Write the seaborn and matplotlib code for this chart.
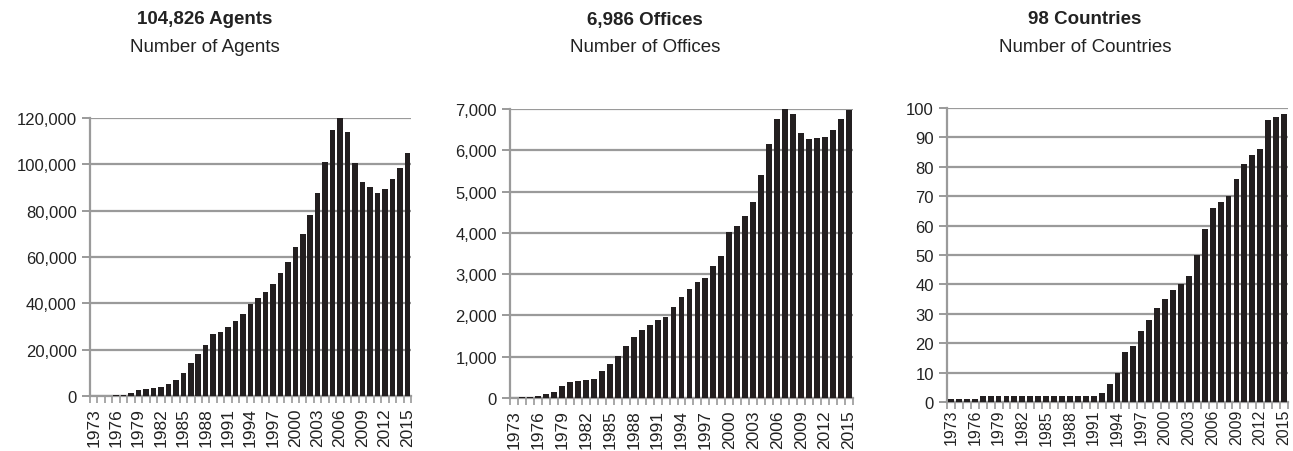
import numpy as np
import pandas as pd
import matplotlib
matplotlib.use("Agg")
import matplotlib.pyplot as plt
import seaborn as sns
from matplotlib.ticker import FuncFormatter, FixedLocator

years = list(range(1973, 2016))
agents = [50, 100, 200, 300, 600, 1400, 2500, 3200, 3600, 3900, 5000, 7000, 10000,
          14200, 18100, 22100, 26700, 27600, 29700, 32500, 35600, 39800, 42100,
          44800, 48300, 53000, 57800, 64400, 70100, 78200, 87700, 100900, 114800,
          120000, 113800, 100700, 92400, 90100, 87800, 89400, 93700, 98400, 104826]
offices = [10, 15, 25, 40, 95, 140, 290, 380, 420, 425, 460, 660, 830, 1020, 1265,
           1480, 1645, 1775, 1880, 1970, 2210, 2445, 2640, 2820, 2900, 3195, 3435,
           4010, 4175, 4400, 4740, 5410, 6150, 6750, 7000, 6870, 6425, 6265, 6290,
           6330, 6490, 6750, 6986]
countries = [1, 1, 1, 1, 2, 2, 2, 2, 2, 2, 2, 2, 2, 2, 2, 2, 2, 2, 2, 3, 6, 10, 17,
             19, 24, 28, 32, 35, 38, 40, 43, 50, 59, 66, 68, 70, 76, 81, 84, 86, 96,
             97, 98]
titles_bold = ["104,826 Agents", "6,986 Offices", "98 Countries"]
titles_sub = ["Number of Agents", "Number of Offices", "Number of Countries"]
ylims = [120000, 7000, 100]
ysteps = [20000, 1000, 10]

sns.set_theme(style="white")
plt.rcParams['font.family'] = ['Liberation Sans', 'DejaVu Sans']

fig = plt.figure(figsize=(12.93, 4.52), dpi=100)
W, H = 1293, 452
# axes boxes in pixels: left, right, top, bottom
boxes = [(90, 411, 119, 397), (510, 853, 110, 399), (947, 1288, 109, 403)]
xlab_size = [12.5, 12.5, 11.5]
xlab_pad = [8, 8, 5]
title_x = [205, 645, 1085]
series = [agents, offices, countries]
grid_col = "#9a9a9a"
bar_col = "#231f20"

for i in range(3):
    l, r, t, b = boxes[i]
    ax = fig.add_axes([l / W, 1 - b / H, (r - l) / W, (b - t) / H])
    df = pd.DataFrame({"year": [str(y) for y in years], "value": series[i]})
    sns.barplot(data=df, x="year", y="value", color=bar_col, saturation=1,
                width=0.74, linewidth=0, edgecolor=bar_col, ax=ax, zorder=3)
    ax.set_xlim(-0.5, len(years) - 0.5)
    ax.set_ylim(0, ylims[i])
    ax.set_yticks(np.arange(0, ylims[i] + 1, ysteps[i]))
    ax.yaxis.set_major_formatter(FuncFormatter(lambda v, p: f"{int(v):,}"))
    ax.grid(axis="y", color=grid_col, linewidth=1.6, zorder=0)
    ax.set_axisbelow(True)
    for s in ["top", "right"]:
        ax.spines[s].set_visible(False)
    ax.spines["left"].set_color(grid_col)
    ax.spines["left"].set_linewidth(1.6)
    ax.spines["bottom"].set_color(grid_col)
    ax.spines["bottom"].set_linewidth(1.6)
    idx = list(range(0, len(years), 3))
    ax.set_xticks(idx)
    ax.set_xticklabels([str(years[k]) for k in idx], rotation=90)
    ax.xaxis.set_minor_locator(FixedLocator(np.arange(-0.5, len(years), 1.0)))
    ax.tick_params(axis="x", which="major", length=0, pad=xlab_pad[i],
                   labelsize=xlab_size[i], colors="#222222")
    ax.tick_params(axis="x", which="minor", length=5, width=1.2, color=grid_col, bottom=True)
    ax.tick_params(axis="y", length=6, width=1.4, color=grid_col, labelsize=12,
                   labelcolor="#222222", left=True)
    ax.set_xlabel("")
    ax.set_ylabel("")
    fig.text(title_x[i] / W, 1 - 20 / H, titles_bold[i], ha="center", va="center",
             fontsize=13.5, fontweight="bold", color="#222222")
    fig.text(title_x[i] / W, 1 - 47 / H, titles_sub[i], ha="center", va="center",
             fontsize=13.5, color="#222222")

fig.savefig("out.png", dpi=100, facecolor="white")
